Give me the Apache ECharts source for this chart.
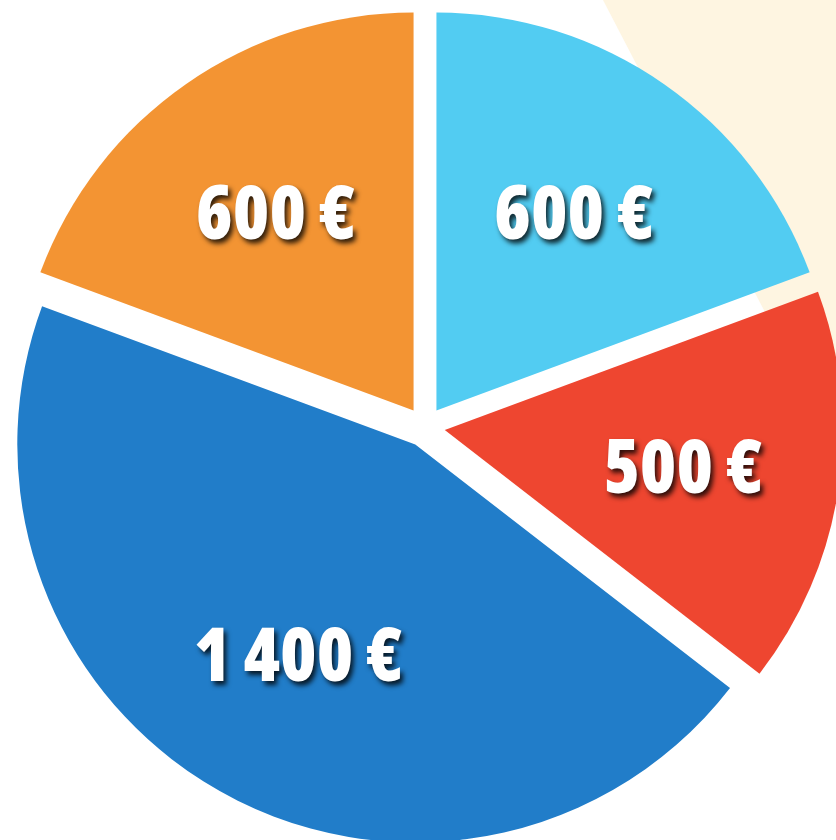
<!DOCTYPE html>
<html><head><meta charset="utf-8">
<script src="https://cdn.jsdelivr.net/npm/echarts@6/dist/echarts.min.js"></script>
<style>html,body{margin:0;padding:0;background:#fff}#c{width:836px;height:840px}</style>
</head><body><div id="c"></div>
<script>
const categories = ['Part 1', 'Part 2', 'Part 3', 'Part 4'];
const values = [600, 500, 1400, 600];
const colors = ['#52CCF2', '#EE4630', '#217DC9', '#F39433'];

function fmt(v) {
  return String(v).replace(/\B(?=(\d{3})+(?!\d))/g, ' ') + ' €';
}

const chart = echarts.init(document.getElementById('c'), null, { renderer: 'canvas' });
const sliceData = categories.map((n, i) => ({
  name: n, value: values[i], selected: true,
  itemStyle: { color: colors[i] }
}));
const labelData = categories.map((n, i) => ({ name: n, value: values[i] }));

chart.setOption({
  animation: false,
  backgroundColor: '#ffffff',
  graphic: [{
    type: 'polygon', z: -10, silent: true,
    shape: { points: [[603, 0], [836, 0], [836, 449]] },
    style: { fill: '#FEF5E1' }
  }],
  series: [{
    type: 'pie',
    center: [425, 427],
    radius: 398,
    startAngle: 90,
    clockwise: true,
    selectedMode: 'multiple',
    selectedOffset: 20,
    silent: true,
    label: { show: false },
    labelLine: { show: false },
    emphasis: { disabled: true },
    data: sliceData
  }, {
    type: 'pie',
    center: [425, 432],
    radius: [118, 398],
    startAngle: 90,
    clockwise: true,
    silent: true,
    z: 5,
    itemStyle: { color: 'rgba(0,0,0,0)' },
    emphasis: { disabled: true },
    labelLine: { show: false },
    label: {
      show: true,
      position: 'inside',
      rotate: 0,
      formatter: p => fmt(p.value),
      color: '#ffffff',
      fontFamily: "'Open Sans'",
      fontWeight: '800 condensed',
      fontSize: 74,
      textShadowColor: 'rgba(0,0,0,0.8)',
      textShadowBlur: 5,
      textShadowOffsetX: 3,
      textShadowOffsetY: 4
    },
    data: labelData
  }]
});
</script>
</body></html>
